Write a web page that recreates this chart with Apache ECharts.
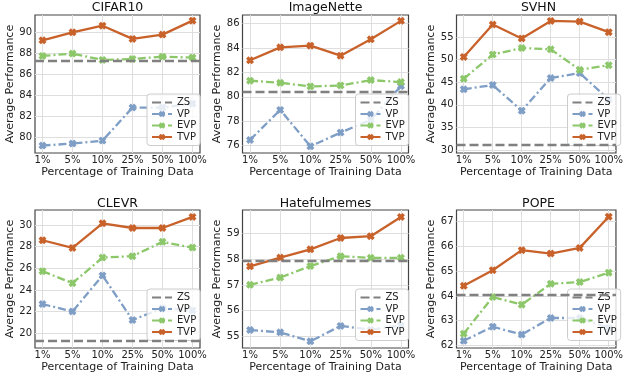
<!DOCTYPE html>
<html><head><meta charset="utf-8">
<script src="https://cdn.jsdelivr.net/npm/echarts@6/dist/echarts.min.js"></script>
<style>html,body{margin:0;padding:0;background:#fff}#c{width:626px;height:380px}</style>
</head><body><div id="c"></div>
<script>
const xLabels = ['1%', '5%', '10%', '25%', '50%', '100%'];
const seriesNames = ['ZS', 'VP', 'EVP', 'TVP'];

const titles = ['CIFAR10', 'ImageNette', 'SVHN', 'CLEVR', 'Hatefulmemes', 'POPE'];

const cifarZS = 87.27;
const cifarVP = [79.21, 79.40, 79.68, 82.83, 82.83, 83.20];
const cifarEVP = [87.75, 87.97, 87.37, 87.46, 87.68, 87.59];
const cifarTVP = [89.24, 90.00, 90.63, 89.37, 89.78, 91.11];
const cifarTicks = [80, 82, 84, 86, 88, 90];

const netteZS = 80.44;
const netteVP = [76.47, 78.93, 75.95, 77.07, 78.11, 80.88];
const netteEVP = [81.32, 81.15, 80.85, 80.93, 81.37, 81.21];
const netteTVP = [82.99, 84.05, 84.19, 83.37, 84.71, 86.22];
const netteTicks = [76, 78, 80, 82, 84, 86];

const svhnZS = 31.17;
const svhnVP = [43.45, 44.40, 38.70, 45.94, 47.04, 41.20];
const svhnEVP = [45.79, 51.13, 52.59, 52.30, 47.76, 48.79];
const svhnTVP = [50.61, 57.78, 54.71, 58.58, 58.44, 56.10];
const svhnTicks = [30, 35, 40, 45, 50, 55];

const clevrZS = 19.29;
const clevrVP = [22.70, 22.02, 25.34, 21.23, 22.33, 22.12];
const clevrEVP = [25.74, 24.63, 26.99, 27.12, 28.44, 27.91];
const clevrTVP = [28.59, 27.88, 30.15, 29.72, 29.72, 30.74];
const clevrTicks = [20, 22, 24, 26, 28, 30];

const hateZS = 57.96;
const hateVP = [55.25, 55.16, 54.81, 55.41, 55.26, 55.43];
const hateEVP = [57.01, 57.29, 57.74, 58.12, 58.06, 58.06];
const hateTVP = [57.73, 58.07, 58.39, 58.83, 58.90, 59.65];
const hateTicks = [55, 56, 57, 58, 59];

const popeZS = 64.06;
const popeVP = [62.19, 62.76, 62.44, 63.11, 63.11, 62.71];
const popeEVP = [62.48, 63.96, 63.65, 64.49, 64.56, 64.94];
const popeTVP = [64.41, 65.04, 65.85, 65.71, 65.94, 67.20];
const popeTicks = [62, 63, 64, 65, 66, 67];

const panels = [
  {zs: cifarZS, vp: cifarVP, evp: cifarEVP, tvp: cifarTVP, ticks: cifarTicks, min: 78.5, max: 91.65},
  {zs: netteZS, vp: netteVP, evp: netteEVP, tvp: netteTVP, ticks: netteTicks, min: 75.4, max: 86.7},
  {zs: svhnZS, vp: svhnVP, evp: svhnEVP, tvp: svhnTVP, ticks: svhnTicks, min: 29.34, max: 59.9},
  {zs: clevrZS, vp: clevrVP, evp: clevrEVP, tvp: clevrTVP, ticks: clevrTicks, min: 18.65, max: 31.38},
  {zs: hateZS, vp: hateVP, evp: hateEVP, tvp: hateTVP, ticks: hateTicks, min: 54.55, max: 59.92},
  {zs: popeZS, vp: popeVP, evp: popeEVP, tvp: popeTVP, ticks: popeTicks, min: 61.9, max: 67.47}
];

const FONT = 'DejaVu Sans';
const colLeft = [35, 242.5, 456.5];
const colWidth = [165, 166, 164];
const rowTop = [15, 210];
const gridH = 138;
const titleTop = [1.5, 197.5];
const C = {ZS: '#808080', VP: '#7f9ec6', EVP: '#8cc76a', TVP: '#c8622a'};
const XSYM = 'path://M0,3 L3,0 L5,2 L7,0 L10,3 L8,5 L10,7 L7,10 L5,8 L3,10 L0,7 L2,5 Z';
const idx = [0, 1, 2, 3, 4, 5];

const option = {
  animation: false,
  backgroundColor: '#fff',
  title: [], grid: [], xAxis: [], yAxis: [], legend: [], series: []
};

panels.forEach((p, k) => {
  const r = Math.floor(k / 3), c = k % 3;
  option.title.push({
    text: titles[k], left: colLeft[c] + colWidth[c] / 2, top: titleTop[r], textAlign: 'center', padding: 0,
    textStyle: {fontFamily: FONT, fontSize: 12.5, fontWeight: 'normal', color: '#111'}
  });
  option.grid.push({
    left: colLeft[c], top: rowTop[r], width: colWidth[c], height: gridH,
    show: true, borderColor: '#444', borderWidth: 1.2, backgroundColor: 'transparent', containLabel: false
  });
  option.xAxis.push({
    type: 'value', gridIndex: k, min: -0.25, max: 5.25,
    name: 'Percentage of Training Data', nameLocation: 'middle', nameGap: 14,
    nameTextStyle: {fontFamily: FONT, fontSize: 11, color: '#222'},
    axisLine: {show: false},
    axisTick: {show: false, customValues: idx},
    axisLabel: {customValues: idx, formatter: v => xLabels[Math.round(v)], fontFamily: FONT, fontSize: 10, color: '#222', margin: 2},
    splitLine: {show: true, lineStyle: {color: '#dedede', width: 1}}
  });
  option.yAxis.push({
    type: 'value', gridIndex: k, min: p.min, max: p.max,
    name: 'Average Performance', nameLocation: 'middle', nameGap: 19, nameRotate: 90,
    nameTextStyle: {fontFamily: FONT, fontSize: 11, color: '#222'},
    axisLine: {show: false},
    axisTick: {show: false, customValues: p.ticks},
    axisLabel: {customValues: p.ticks, fontFamily: FONT, fontSize: 10, color: '#222', margin: 3},
    splitLine: {show: true, lineStyle: {color: '#dedede', width: 1}}
  });
  option.legend.push({
    data: [{name: 'ZS', itemStyle: {opacity: 0}}, 'VP', 'EVP', 'TVP'], orient: 'vertical',
    left: colLeft[c] + colWidth[c] - 53, top: rowTop[r] + 79,
    backgroundColor: 'rgba(255,255,255,0.8)', borderColor: '#cccccc', borderWidth: 1, borderRadius: 3,
    padding: [3, 4], itemGap: 0.5, itemWidth: 20, itemHeight: 8,
    textStyle: {fontFamily: FONT, fontSize: 10, color: '#222', lineHeight: 11}
  });
  option.series.push({
    name: 'ZS', type: 'line', xAxisIndex: k, yAxisIndex: k, data: [], symbol: 'none',
    lineStyle: {color: C.ZS, width: 2.3, type: [9, 4]}, itemStyle: {color: C.ZS},
    markLine: {silent: true, symbol: ['none', 'none'], label: {show: false},
      lineStyle: {color: C.ZS, width: 2.3, type: [9, 4]}, data: [{yAxis: p.zs}]}
  });
  [['VP', p.vp, [8, 3, 2, 3]], ['EVP', p.evp, [8, 3, 2, 3]], ['TVP', p.tvp, 'solid']].forEach(([n, arr, dash]) => {
    option.series.push({
      name: n, type: 'line', xAxisIndex: k, yAxisIndex: k,
      data: arr.map((v, i) => [i, v]),
      symbol: XSYM, symbolSize: 8,
      lineStyle: {color: C[n], width: 2.3, type: dash},
      itemStyle: {color: C[n]}
    });
  });
});

const chart = echarts.init(document.getElementById('c'), null, {renderer: 'canvas'});
chart.setOption(option);
</script></body></html>
